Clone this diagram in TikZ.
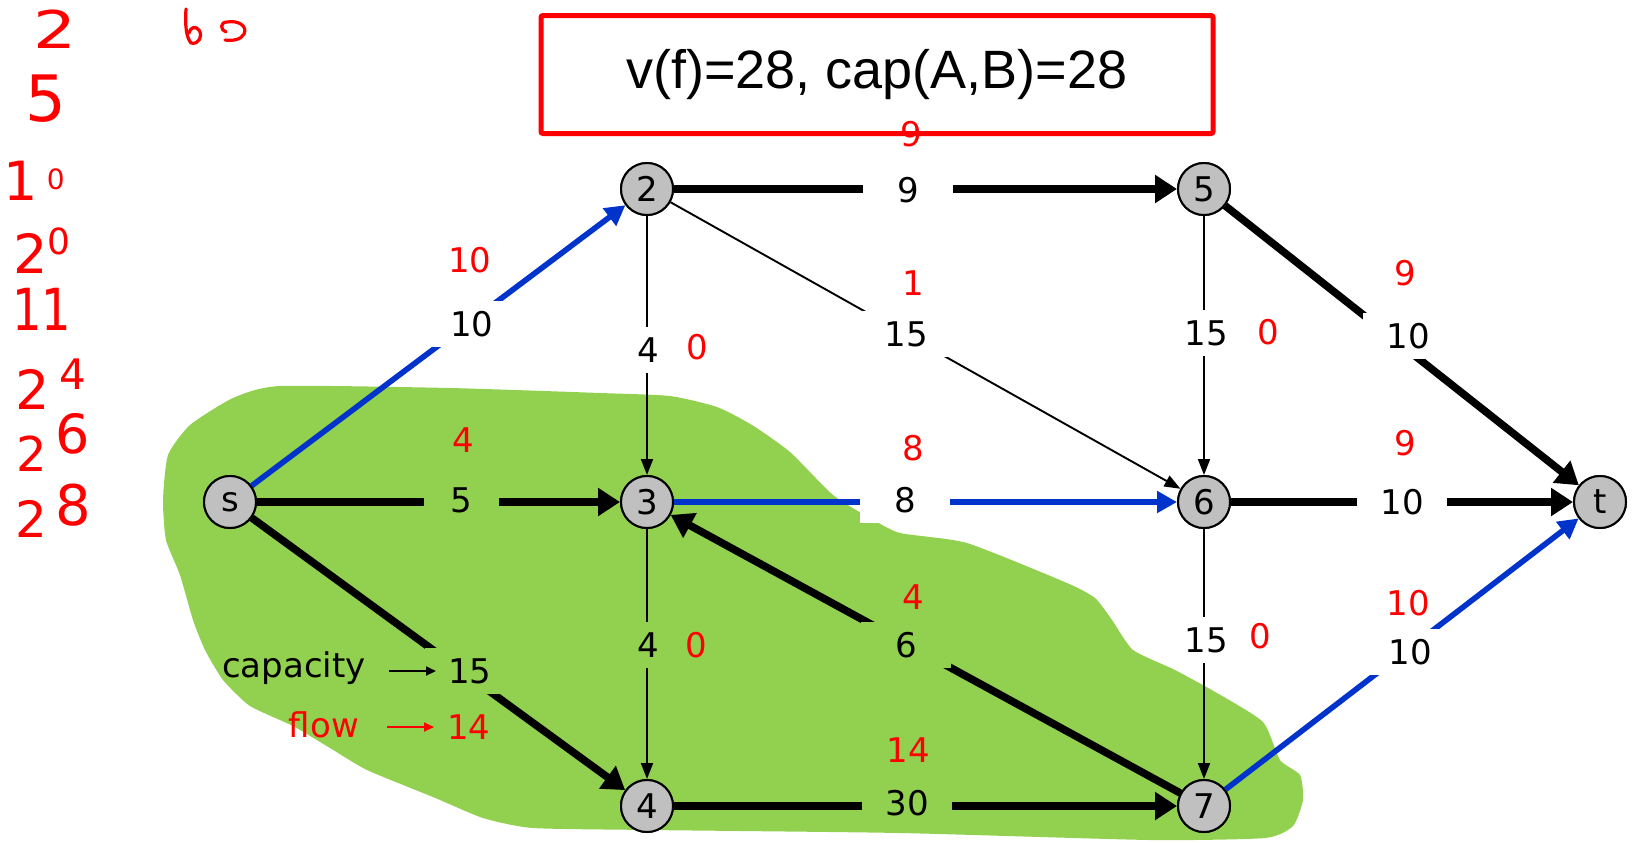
\documentclass[tikz,border=0pt]{standalone}
\usepackage{fontspec}
\setmainfont{DejaVu Sans}
\newfontfamily\titlefont{Liberation Sans}
\usetikzlibrary{arrows.meta}
\definecolor{grn}{RGB}{146,208,80}
\definecolor{blu}{RGB}{0,51,204}
\definecolor{ndgray}{RGB}{192,192,192}
\begin{document}
\begin{tikzpicture}[x=0.5pt,y=-0.5pt,
  lbl/.style={inner sep=0pt,font=\fontsize{17}{19}\selectfont},
  vtx/.style={lbl,circle,draw=black,line width=1pt,fill=ndgray,minimum size=26pt},
  capw/.style={lbl,fill=white,minimum width=45pt,minimum height=23pt},
  capg/.style={capw,fill=grn},
  flw/.style={lbl,text=red},
  bigarc/.style={line width=3.8pt,-{Triangle[length=11pt,width=13.5pt]}},
  thinarc/.style={line width=0.95pt,-{Triangle[length=8pt,width=6pt]}},
  bluearc/.style={draw=blu,line width=2.8pt,-{Triangle[length=10pt,width=10.5pt]}},
  legarc/.style={line width=0.9pt,-{Triangle[length=5pt,width=4.5pt]}},
  hw/.style={text=red,inner sep=0pt,font=\fontsize{25}{28}\selectfont},
  hwstroke/.style={draw=red,line width=1.6pt,line cap=round,line join=round}]
\useasboundingbox (0,0) rectangle (1637,842);

% green cut region
\fill[grn] plot[smooth cycle,tension=0.35] coordinates {
 (233,398) (280,386) (450,388) (600,393) (670,396) (717,407) (752,425) (790,452)
 (833,495) (870,518) (900,533) (967,543) (1067,583) (1095,598) (1112,620) (1133,650)
 (1175,670) (1217,693) (1263,722) (1280,760) (1300,775) (1303,800) (1293,826) (1265,838)
 (1150,840) (900,833) (650,830) (533,828) (483,818) (433,797) (367,770) (330,748)
 (293,726) (250,706) (223,680) (205,650) (193,620) (180,575) (166,540) (163,500)
 (168,455) (190,425)};

% title
\node[draw=red,line width=2.5pt,rounded corners=1pt,minimum width=336pt,minimum height=59pt,
  inner sep=0pt,font=\titlefont\fontsize{27}{30}\selectfont] (title) at (877,74.5) {v(f)=28, cap(A,B)=28};

% handwritten notes
\node[hw,font=\fontsize{26}{28}\selectfont] (h1) at (55,29) {\scalebox{1.3}[1]{2}};
\node[hw,font=\fontsize{32}{34}\selectfont] (h2) at (46,99) {5};
\node[hw,font=\fontsize{27}{30}\selectfont] (h3) at (34,181) {1\,\raisebox{5.5pt}{\fontsize{14}{15}\selectfont 0}};
\node[hw,font=\fontsize{27}{30}\selectfont] (h4) at (42,251) {2\raisebox{9.5pt}{\fontsize{18}{20}\selectfont 0}};
\node[hw,font=\fontsize{29}{32}\selectfont] (h5) at (42,309) {\scalebox{0.8}[1]{11}};
\node[hw,font=\fontsize{27}{30}\selectfont] (h6) at (51,384) {2\,\raisebox{10pt}{\fontsize{21}{23}\selectfont 4}};
\node[hw,font=\fontsize{24}{26}\selectfont] (h7) at (53,442) {2\,\raisebox{9pt}{\fontsize{27}{30}\selectfont 6}};
\node[hw,font=\fontsize{25}{28}\selectfont] (h8) at (53,511) {2\,\raisebox{6pt}{\fontsize{28}{31}\selectfont 8}};
\draw[hwstroke] (186,9) .. controls (185,25) and (186,37) .. (191,43)
  .. controls (199,45) and (203,36) .. (199,30) .. controls (195,25) and (190,28) .. (189,33);
\draw[hwstroke] (226,32) .. controls (220,30) and (220,22) .. (227,22)
  .. controls (238,20) and (248,26) .. (244,34) .. controls (241,40) and (232,41) .. (225,40);

% vertices
\node[vtx] (s) at (230,502) {s};
\node[vtx] (n2) at (647,189) {2};
\node[vtx] (n3) at (647,502) {3};
\node[vtx] (n4) at (647,806) {4};
\node[vtx] (n5) at (1204,189) {5};
\node[vtx] (n6) at (1204,502) {6};
\node[vtx] (n7) at (1204,806) {7};
\node[vtx] (t) at (1600,502) {t};

% edges
\draw[bluearc] (s) -- (n2);
\draw[bigarc] (s) -- (n3);
\draw[bigarc] (s) -- (n4);
\draw[bigarc] (n2) -- (n5);
\draw[thinarc] (n2) -- (n3);
\draw[thinarc] (n2) -- (n6);
\draw[thinarc] (n5) -- (n6);
\draw[bigarc] (n5) -- (t);
\draw[bluearc] (n3) -- (n6);
\draw[thinarc] (n3) -- (n4);
\draw[bigarc] (n6) -- (t);
\draw[thinarc] (n6) -- (n7);
\draw[bigarc] (n7) -- (n3);
\draw[bigarc] (n4) -- (n7);
\draw[bluearc] (n7) -- (t);

% redraw vertices on top
\node[vtx] at (s) {s};
\node[vtx] at (n2) {2};
\node[vtx] at (n3) {3};
\node[vtx] at (n4) {4};
\node[vtx] at (n5) {5};
\node[vtx] at (n6) {6};
\node[vtx] at (n7) {7};
\node[vtx] at (t) {t};

% capacities
\node[capw] (c25) at (908,190) {9};
\node[capw] (cs2) at (472,324) {10};
\node[capw] (c23) at (648,350) {4};
\node[capw] (c26) at (906,334) {15};
\node[capw] (c56) at (1206,333) {15};
\node[capw] (c5t) at (1408,336) {10};
\node[capg,minimum width=37.5pt] (cs3) at (461,500) {5};
\node[capw] (c36) at (905,500) {8};
\node[capw] (c6t) at (1402,502) {10};
\node[capg] (cs4) at (470,671) {15};
\node[capg] (c34) at (648,645) {4};
\node[capg] (c73) at (906,645) {6};
\node[capw] (c67) at (1206,640) {15};
\node[capw] (c7t) at (1410,652) {10};
\node[capg] (c47) at (907,803) {30};

% flows
\node[flw] (f25) at (911,134) {9};
\node[flw] (fs2) at (470,260) {10};
\node[flw] (f23) at (697,347) {0};
\node[flw] (f26) at (913,283) {1};
\node[flw] (f56) at (1268,332) {0};
\node[flw] (f5t) at (1405,273) {9};
\node[flw] (fs3) at (463,440) {4};
\node[flw] (f36) at (913,448) {8};
\node[flw] (f6t) at (1405,443) {9};
\node[flw] (fs4) at (469,727) {14};
\node[flw] (f34) at (696,645) {0};
\node[flw] (f73) at (913,597) {4};
\node[flw] (f67) at (1260,636) {0};
\node[flw] (f7t) at (1408,603) {10};
\node[flw] (f47) at (908,750) {14};

% legend
\node[lbl] (captext) at (294,668) {capacity};
\node[flw] (flowtext) at (324,725) {flow};
\coordinate (capA) at (389,671);
\coordinate (capB) at (436,671);
\coordinate (flowA) at (387,727);
\coordinate (flowB) at (434,727);
\draw[legarc] (capA) -- (capB);
\draw[legarc,red] (flowA) -- (flowB);
\end{tikzpicture}
\end{document}
